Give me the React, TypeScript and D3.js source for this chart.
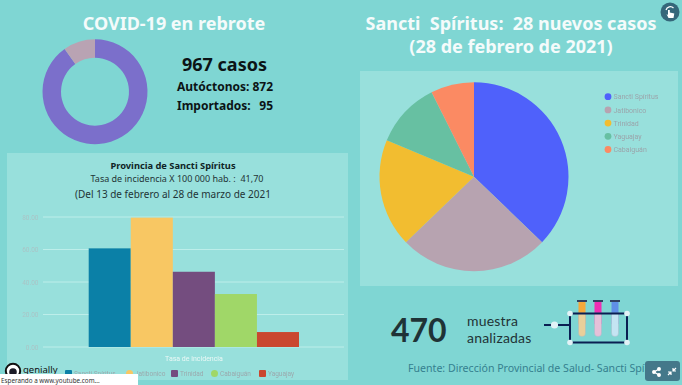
import React from "react";
import * as d3 from "d3";

const W = 682, H = 385;
const BG = "#7fd6d3";
const PANEL = "#98e0dc";

const donutLabels = ["Autóctonos", "Importados"];
const donutValues = [872, 95];
const donutColors = ["#7b6fcb", "#b9a3b3"];

const pieLabels = ["Sancti Spíritus", "Jatibonico", "Trinidad", "Yaguajay", "Cabaiguán"];
const pieValues = [37.2, 25.6, 18.5, 11.3, 7.4];
const pieColors = ["#4f61fb", "#b7a3b0", "#f2bd30", "#67c0a2", "#fb8a63"];

const barLabels = ["Sancti Spíritus", "Jatibonico", "Trinidad", "Cabaiguán", "Yaguajay"];
const barValues = [60.7, 79.6, 46.3, 32.6, 9.2];
const barColors = ["#0b80a7", "#f8c763", "#744d7f", "#a0d768", "#ca472f"];
const barTicks = [0, 20, 40, 60, 80];

const FONT = "'Noto Sans', 'Open Sans', sans-serif";

function Donut() {
  const pie = d3.pie<number>().sort(null)(donutValues);
  const arc = d3.arc<d3.PieArcDatum<number>>().innerRadius(34).outerRadius(52.5);
  return (
    <g transform="translate(95,91.7)">
      {pie.map((d, i) => (
        <path key={donutLabels[i]} d={arc(d) ?? ""} fill={donutColors[i]} />
      ))}
    </g>
  );
}

function PieChart() {
  const pie = d3.pie<number>().sort(null)(pieValues);
  const arc = d3.arc<d3.PieArcDatum<number>>().innerRadius(0).outerRadius(94.5);
  return (
    <g>
      <g transform="translate(474,176.7)">
        {pie.map((d, i) => (
          <path key={pieLabels[i]} d={arc(d) ?? ""} fill={pieColors[i]} />
        ))}
      </g>
      {pieLabels.map((l, i) => (
        <g key={l} transform={`translate(608,${96.7 + i * 13.2})`}>
          <circle r={3.4} fill={pieColors[i]} />
          <text x={5.5} y={2.6} fontSize={7} fill="#9aa5ab" fontFamily="Roboto, sans-serif" filter="url(#soft)">{l}</text>
        </g>
      ))}
    </g>
  );
}

function BarChart() {
  const x = d3.scaleBand<string>().domain(barLabels).range([88.7, 299]).padding(0);
  const y = d3.scaleLinear().domain([0, 80]).range([347, 217]);
  const legendX = [65, 126, 171, 211, 259];
  return (
    <g>
      {barTicks.map((t) => (
        <g key={t}>
          <line x1={43} x2={344} y1={y(t)} y2={y(t)} stroke="#bdeeea" strokeWidth={1} />
          <text x={38.5} y={y(t) + 2.5} textAnchor="end" fontSize={6.5} fill="#a9c4c6" fontFamily="Roboto, sans-serif" filter="url(#soft)">
            {t.toFixed(2)}
          </text>
        </g>
      ))}
      {barLabels.map((l, i) => (
        <rect key={l} x={x(l)} y={y(barValues[i])} width={x.bandwidth()} height={y(0) - y(barValues[i])} fill={barColors[i]} />
      ))}
      <text x={194} y={361} textAnchor="middle" fontSize={7} fill="#eaf8f6" fontFamily="Roboto, sans-serif" filter="url(#soft)">Tasa de incidencia</text>
      {barLabels.map((l, i) => (
        <g key={l}>
          <rect x={legendX[i]} y={370} width={7} height={7} rx={i === 1 || i === 3 ? 3.5 : 1} fill={barColors[i]} />
          <text x={legendX[i] + 9} y={375.5} fontSize={6.5} fill="#9aa9ad" fontFamily="Roboto, sans-serif" filter="url(#soft)">{l}</text>
        </g>
      ))}
    </g>
  );
}

function TubeRack() {
  const tubes = [
    { x: 582, c: "#f5a83b", b: "#e9cf9a" },
    { x: 598, c: "#ee2fb4", b: "#e6c0d8" },
    { x: 615, c: "#5f8fe6", b: "#c4e4f2" },
  ];
  const navy = "#0a1f52";
  return (
    <g>
      {tubes.map((t) => (
        <g key={t.x}>
          <line x1={t.x - 5} x2={t.x + 5} y1={301} y2={301} stroke="#1b1b45" strokeWidth={1.6} />
          <rect x={t.x - 3.5} y={302} width={7} height={22} fill={t.c} />
          <path d={`M${t.x - 3.5},313 h7 v20 a3.5,3.5 0 0 1 -7,0 z`} fill={t.b} stroke="#a9b4c4" strokeWidth={0.4} />
        </g>
      ))}
      <line x1={544} x2={570} y1={325} y2={325} stroke={navy} strokeWidth={2} />
      <rect x={570} y={313.5} width={57} height={29} fill="none" stroke={navy} strokeWidth={2} />
      <circle cx={554.5} cy={325} r={3.6} fill="#e2f2f6" />
      {[[570, 313.5], [627, 313.5], [570, 342.5], [627, 342.5]].map(([cx, cy]) => (
        <circle key={`${cx}-${cy}`} cx={cx} cy={cy} r={2.8} fill="#e2f2f6" />
      ))}
    </g>
  );
}

export default function App() {
  return (
    <svg
      width={W}
      height={H}
      viewBox={`0 0 ${W} ${H}`}
      style={{ position: "fixed", left: 0, top: 0, display: "block" }}
      fontFamily={FONT}
    >
      <defs>
        <filter id="soft" x="-10%" y="-30%" width="120%" height="160%">
          <feGaussianBlur stdDeviation="0.3" />
        </filter>
      </defs>
      <rect width={W} height={H} fill={BG} />

      <text x={174} y={30} textAnchor="middle" fontSize={18} fontWeight={700} fill="#f4fbfb">COVID-19 en rebrote</text>
      <Donut />
      <text x={224.5} y={71} textAnchor="middle" fontSize={18} fontWeight={700} fill="#0c1416">967 casos</text>
      <text x={225} y={91} textAnchor="middle" fontSize={12} fontWeight={700} fill="#0c1416">Autóctonos: 872</text>
      <text x={177} y={110} fontSize={12} fontWeight={700} fill="#0c1416">Importados:</text>
      <text x={273} y={110} textAnchor="end" fontSize={12} fontWeight={700} fill="#0c1416">95</text>

      <rect x={7} y={153} width={341} height={227} fill={PANEL} />
      <text x={173} y={169} textAnchor="middle" fontSize={9.3} fontWeight={700} fill="#0f2426">Provincia de Sancti Spíritus</text>
      <text x={177} y={182} textAnchor="middle" fontSize={9} fill="#1f3436" xmlSpace="preserve">Tasa de incidencia X 100 000 hab. :  41,70</text>
      <text x={173} y={198} textAnchor="middle" fontSize={10} fill="#1f3436">(Del 13 de febrero al 28 de marzo de 2021</text>
      <BarChart />

      <text x={511} y={30} textAnchor="middle" fontSize={18} fontWeight={700} fill="#f4fbfb" xmlSpace="preserve">Sancti  Spíritus:  28 nuevos casos</text>
      <text x={511} y={53} textAnchor="middle" fontSize={18} fontWeight={700} fill="#f4fbfb">(28 de febrero de 2021)</text>

      <rect x={360} y={71} width={318} height={215} fill={PANEL} />
      <PieChart />

      <text x={391} y={342} fontSize={32} fontWeight={700} fontFamily="Lato, sans-serif" fill="#1f3336">470</text>
      <text x={467} y={326} fontSize={14} letterSpacing={0.2} fontFamily="Lato, sans-serif" fill="#1f3336">muestra</text>
      <text x={467} y={343} fontSize={14} letterSpacing={0.2} fontFamily="Lato, sans-serif" fill="#1f3336">analizadas</text>
      <TubeRack />
      <text x={408} y={372} fontSize={10.6} fill="#35808f">Fuente: Dirección Provincial de Salud- Sancti Spíritus</text>

      <rect x={645} y={361} width={35} height={20} rx={3} fill="#44788a" />
      <g stroke="#fff" strokeWidth={1.3} fill="#fff">
        <path d="M659,369 L654,372 L659,375" fill="none" />
        <circle cx={654} cy={372} r={1.3} />
        <circle cx={659} cy={369} r={1.3} />
        <circle cx={659} cy={375} r={1.3} />
      </g>
      <g stroke="#fff" strokeWidth={1.2} fill="none">
        <path d="M668,375 L671,372 M668,372 h3 v3" />
        <path d="M676,368 L673,371 M676,371 h-3 v-3" />
      </g>

      <circle cx={670} cy={12} r={9.5} fill="#35677a" />
      <path d="M666,10 a4.5,4.5 0 0 1 7.5,-2" fill="none" stroke="#fff" strokeWidth={1.2} />
      <path d="M668,10 v5 l-1.5,-1 l2,4 h5 l0.8,-4.5 l-4.5,-1 v-2.5 z" fill="#fff" />

      <circle cx={13} cy={371} r={7.2} fill="#fff" stroke="#111" strokeWidth={2} />
      <circle cx={13} cy={372} r={3.8} fill="#1c1c28" />
      <text x={23} y={372.5} fontSize={9.5} fill="#111">genially</text>
      <rect x={0} y={374} width={138} height={11} fill="#fff" />
      <text x={1} y={383} fontSize={6.3} fill="#333">Esperando a www.youtube.com...</text>
    </svg>
  );
}
